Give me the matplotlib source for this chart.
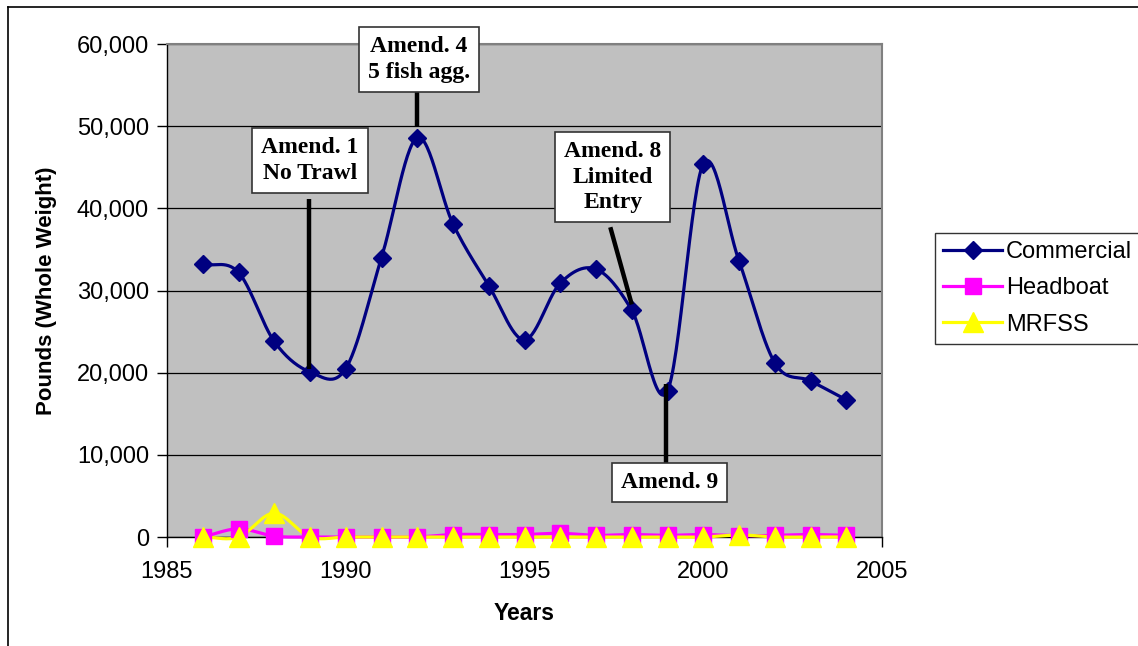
import numpy as np
import matplotlib
matplotlib.use("Agg")
import matplotlib.pyplot as plt
from matplotlib.lines import Line2D

years = [1986, 1987, 1988, 1989, 1990, 1991, 1992, 1993, 1994, 1995,
         1996, 1997, 1998, 1999, 2000, 2001, 2002, 2003, 2004]
commercial = [33200, 32200, 23800, 20100, 20500, 34000, 48600, 38100, 30600, 24000,
              30900, 32600, 27600, 17800, 45400, 33600, 21200, 19000, 16700]
headboat = [0, 1000, 100, 0, 0, 0, 0, 300, 300, 300,
            450, 200, 300, 200, 300, 150, 200, 300, 200]
mrfss = [0, 0, 2900, 0, 0, 0, 0, 0, 0, 0,
         0, 0, 0, 0, 0, 250, 0, 0, 0]

annotations = [
    ("Amend. 1\nNo Trawl", (1989.0, 45800), (1988.97, 41100), (1988.97, 20400)),
    ("Amend. 4\n5 fish agg.", (1992.04, 58100), (1992.0, 54100), (1992.0, 49900)),
    ("Amend. 8\nLimited\nEntry", (1997.47, 43800), (1997.4, 37700), (1998.0, 28300)),
    ("Amend. 9", (1999.05, 6600), (1998.97, 8700), (1998.97, 18600)),
]


def smooth(x, y, n=30):
    # Catmull-Rom style smoothing (as in spreadsheet "smoothed line")
    x = np.asarray(x, float)
    y = np.asarray(y, float)
    px = np.concatenate([[2 * x[0] - x[1]], x, [2 * x[-1] - x[-2]]])
    py = np.concatenate([[2 * y[0] - y[1]], y, [2 * y[-1] - y[-2]]])
    xs, ys = [], []
    t = np.linspace(0, 1, n)
    for i in range(1, len(px) - 2):
        p0, p1, p2, p3 = (px[i - 1], py[i - 1]), (px[i], py[i]), (px[i + 1], py[i + 1]), (px[i + 2], py[i + 2])
        c1 = (p1[0] + (p2[0] - p0[0]) / 6, p1[1] + (p2[1] - p0[1]) / 6)
        c2 = (p2[0] - (p3[0] - p1[0]) / 6, p2[1] - (p3[1] - p1[1]) / 6)
        bx = (1 - t) ** 3 * p1[0] + 3 * (1 - t) ** 2 * t * c1[0] + 3 * (1 - t) * t ** 2 * c2[0] + t ** 3 * p2[0]
        by = (1 - t) ** 3 * p1[1] + 3 * (1 - t) ** 2 * t * c1[1] + 3 * (1 - t) * t ** 2 * c2[1] + t ** 3 * p2[1]
        xs.extend(bx)
        ys.extend(by)
    return np.array(xs), np.array(ys)


plt.rcParams['font.family'] = ['Liberation Sans', 'DejaVu Sans']

fig = plt.figure(figsize=(11.38, 6.46), dpi=100)
ax = fig.add_axes([167 / 1138, 1 - 537 / 646, (882 - 167) / 1138, (537 - 44) / 646])
ax.set_facecolor('#C0C0C0')

series = [
    ("Commercial", commercial, '#000080', 'D', 9.5),
    ("Headboat", headboat, '#FF00FF', 's', 11),
    ("MRFSS", mrfss, '#FFFF00', '^', 14),
]
handles = []
for name, vals, col, mk, ms in series:
    sx, sy = smooth(years, vals)
    ax.plot(sx, sy, color=col, lw=2.3, zorder=3, clip_on=False)
    ax.plot(years, vals, linestyle='none', marker=mk, markersize=ms, color=col,
            markeredgecolor=col, zorder=4, clip_on=False)
    handles.append(Line2D([0], [0], color=col, lw=2.3, marker=mk, markersize=ms,
                          markeredgecolor=col, label=name))

ax.set_xlim(1985, 2005)
ax.set_ylim(0, 60000)
ax.set_xticks([1985, 1990, 1995, 2000, 2005])
ax.set_yticks(range(0, 60001, 10000))
ax.set_yticklabels([f"{v:,}" for v in range(0, 60001, 10000)])
ax.yaxis.grid(True, color='black', lw=0.9)
ax.set_axisbelow(True)
ax.tick_params(axis='both', labelsize=17, direction='out', length=7, width=1, color='black')
ax.tick_params(axis='x', pad=10)
ax.tick_params(axis='y', pad=6)
for s in ['top', 'right']:
    ax.spines[s].set_color('#808080')
    ax.spines[s].set_linewidth(1.5)
for s in ['left', 'bottom']:
    ax.spines[s].set_color('black')
    ax.spines[s].set_linewidth(1.0)

ax.set_xlabel("Years", fontsize=16.5, fontweight='bold', labelpad=14)
ax.set_ylabel("Pounds (Whole Weight)", fontsize=16, fontweight='bold', labelpad=14)

for text, tpos, l0, l1 in annotations:
    ax.plot([l0[0], l1[0]], [l0[1], l1[1]], color='black', lw=3.2, zorder=6,
            clip_on=False, solid_capstyle='butt')
    ax.text(tpos[0], tpos[1], text, ha='center', va='center', multialignment='center',
            fontsize=17, fontweight='bold', family=['Liberation Serif', 'DejaVu Serif'],
            linespacing=1.3, zorder=7, clip_on=False,
            bbox=dict(boxstyle='square,pad=0.38', facecolor='white', edgecolor='#333333', lw=1.2))

leg = fig.legend(handles=handles, loc='upper left',
                 bbox_to_anchor=(935 / 1138, 1 - 233 / 646), fontsize=17,
                 frameon=True, fancybox=False, edgecolor='black', borderpad=0.35,
                 handlelength=2.5, handletextpad=0.15, labelspacing=0.6, borderaxespad=0)
leg.get_frame().set_linewidth(1.0)

# outer chart border (left and top visible)
fig.add_artist(Line2D([8 / 1138, 8 / 1138], [0, 1 - 7 / 646], color='black', lw=1.2,
                      transform=fig.transFigure))
fig.add_artist(Line2D([8 / 1138, 1], [1 - 7 / 646, 1 - 7 / 646], color='black', lw=1.2,
                      transform=fig.transFigure))

fig.savefig("out.png", dpi=100)
